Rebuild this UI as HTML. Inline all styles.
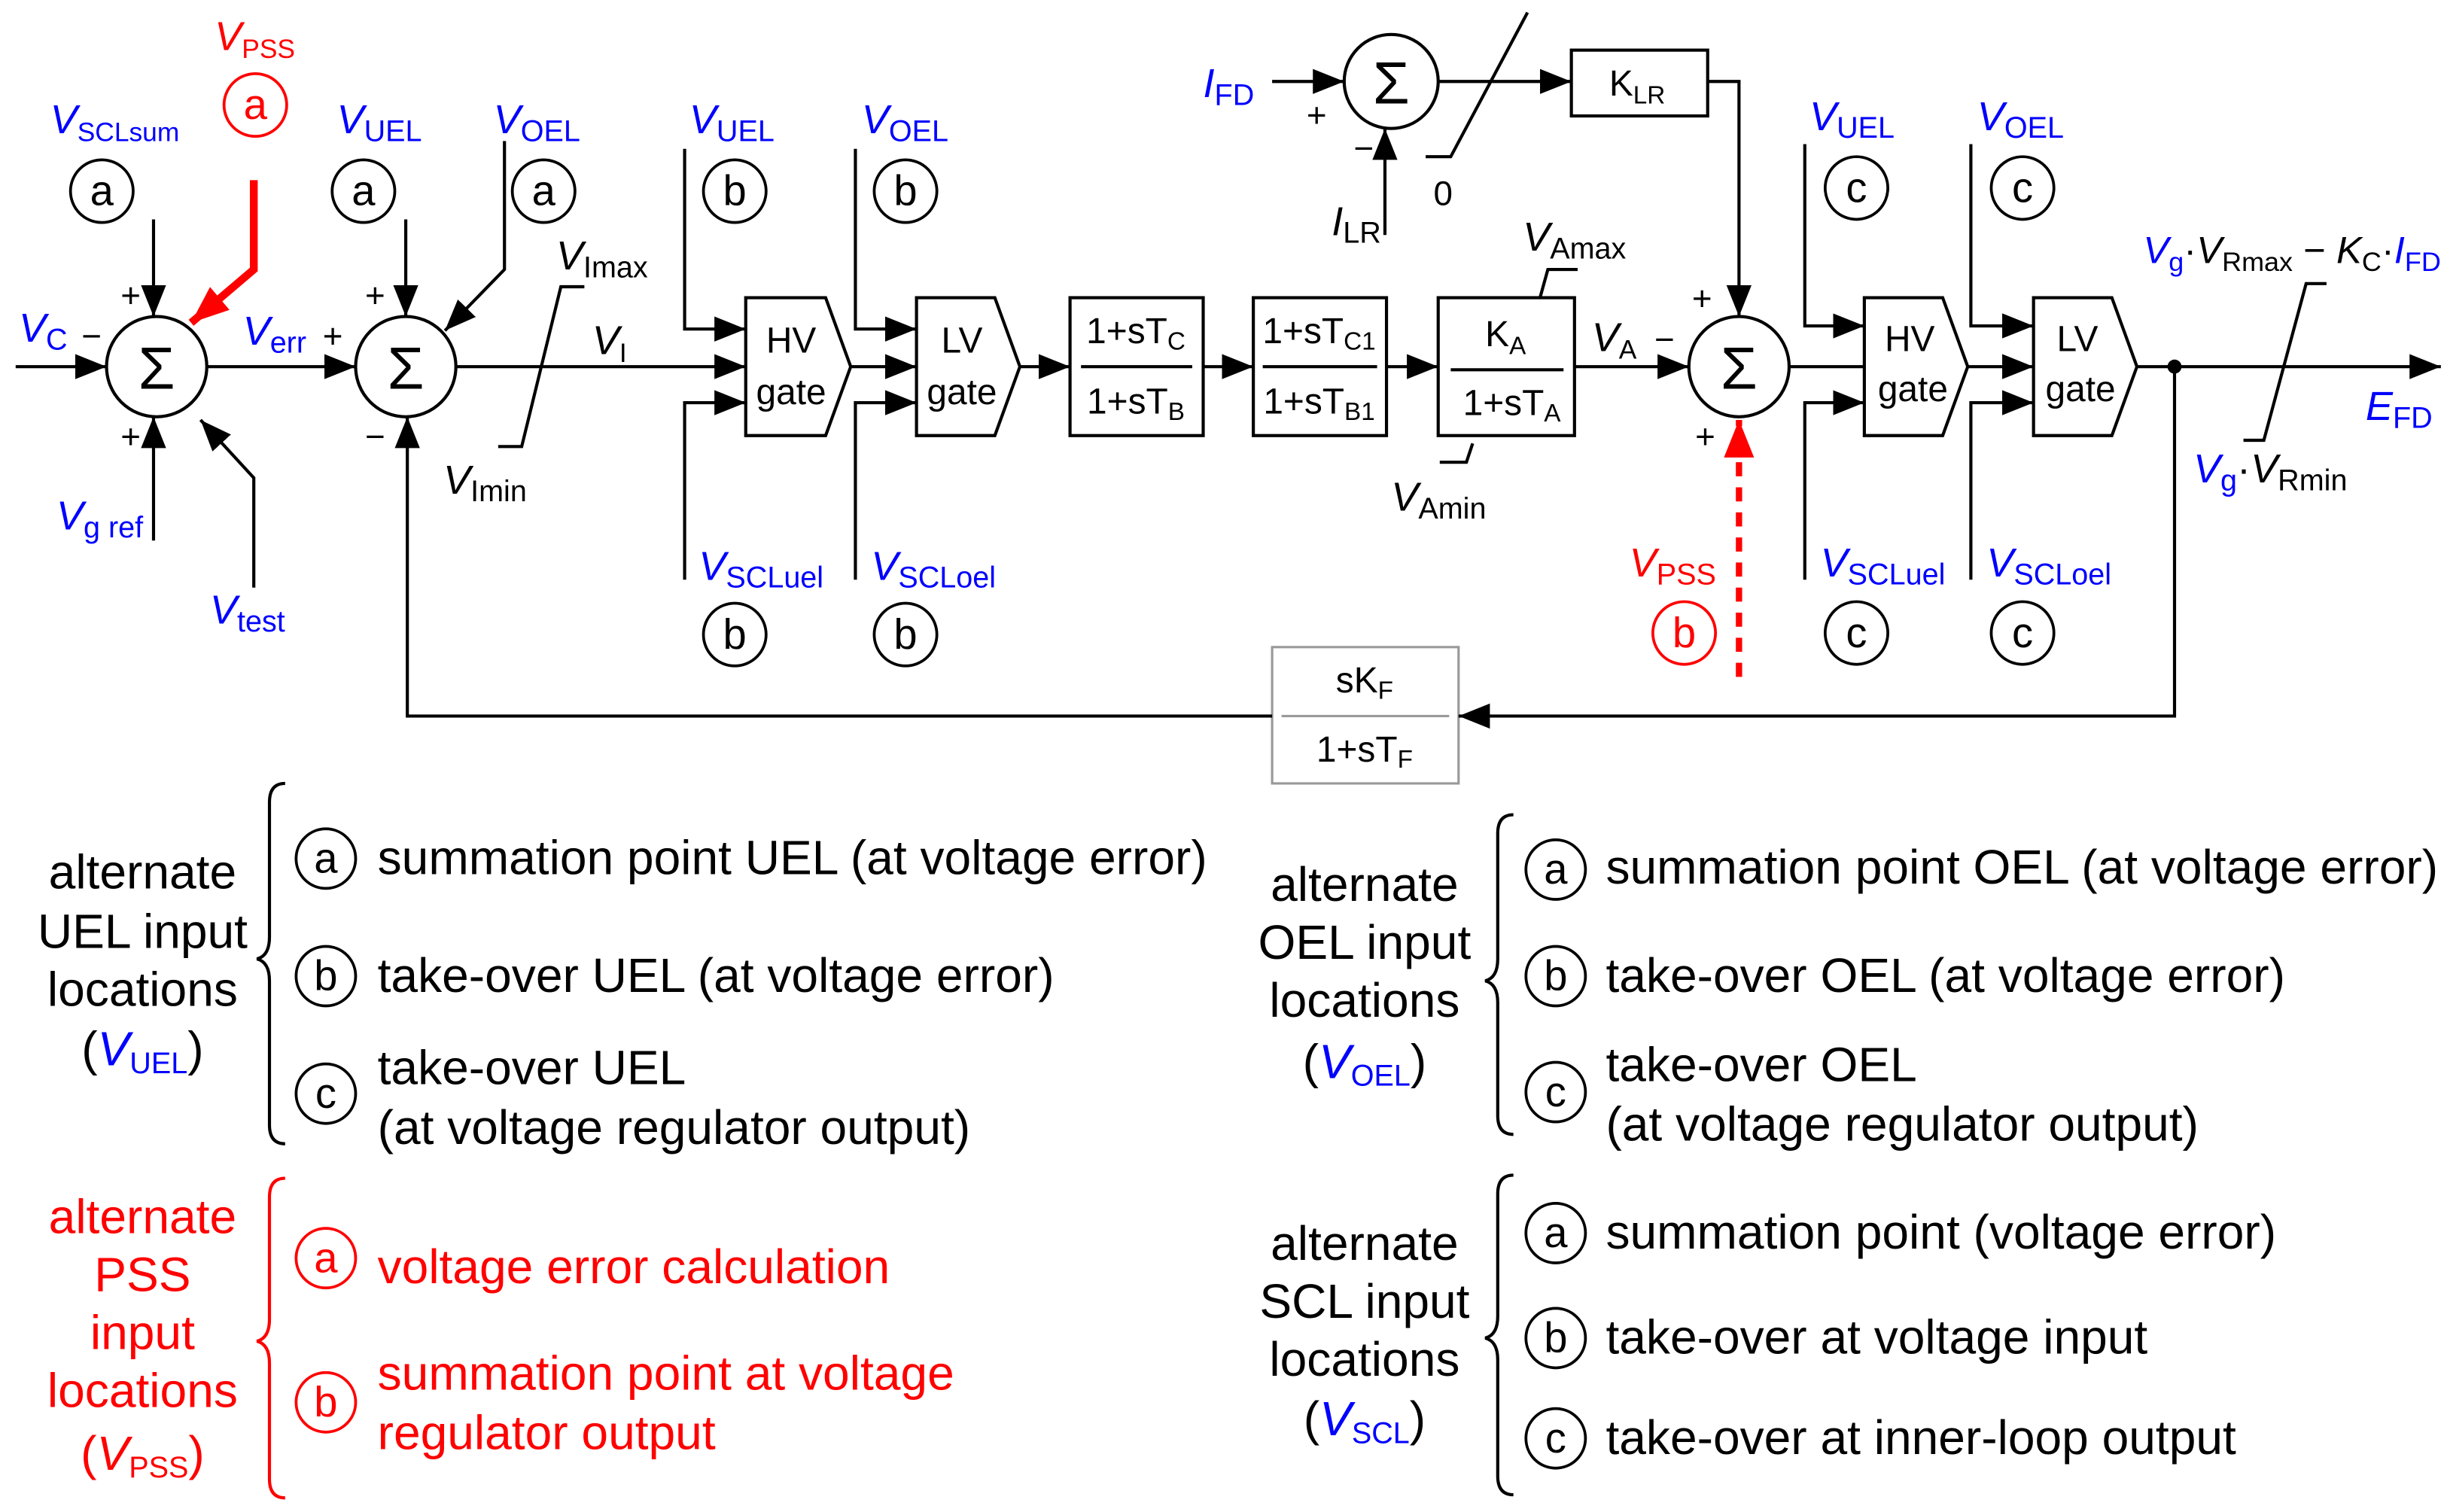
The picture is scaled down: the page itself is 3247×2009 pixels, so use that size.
<!DOCTYPE html>
<html><head><meta charset="utf-8"><style>
html,body{margin:0;padding:0;background:#fff}
svg{display:block}
text{font-family:"Liberation Sans",Arial,sans-serif}
.b{fill:#0000ff}.r{fill:#ff0000}
</style></head><body>
<svg width="3247" height="2009" viewBox="0 0 1560 965" preserveAspectRatio="none" xmlns="http://www.w3.org/2000/svg">
<defs>
<marker id="arb" viewBox="0 0 10 10" refX="10" refY="5" markerWidth="20" markerHeight="20" markerUnits="userSpaceOnUse" orient="auto"><path d="M0,1L10,5L0,9z" fill="#000"/></marker>
<marker id="arr" viewBox="0 0 10 10" refX="10" refY="5" markerWidth="24" markerHeight="24" markerUnits="userSpaceOnUse" orient="auto"><path d="M0,1L10,5L0,9z" fill="#f00"/></marker>
</defs>
<g stroke="#000" stroke-width="2" fill="none">
<circle cx="100" cy="234" r="32"/><circle cx="259" cy="234" r="32"/><circle cx="1110" cy="234" r="32"/><circle cx="888" cy="52" r="30"/>
<polygon points="476,190 527,190 543,234 527,278 476,278"/>
<polygon points="585,190 635,190 651,234 635,278 585,278"/>
<rect x="683" y="190" width="85" height="88"/><line x1="690" y1="234" x2="761" y2="234"/>
<rect x="800" y="190" width="85" height="88"/><line x1="806" y1="234" x2="879" y2="234"/>
<rect x="918" y="190" width="87" height="88"/><line x1="926" y1="236" x2="998" y2="236"/>
<polygon points="1190,190 1240,190 1256,234 1240,278 1190,278"/>
<polygon points="1298,190 1348,190 1364,234 1348,278 1298,278"/>
<rect x="1003" y="32" width="87" height="42"/>
<rect x="812" y="413" width="119" height="87" stroke="#999" stroke-width="1.5"/>
<line x1="818" y1="457" x2="925" y2="457" stroke="#999" stroke-width="1.5"/>
<line x1="10" y1="234" x2="68" y2="234" marker-end="url(#arb)"/>
<line x1="132" y1="234" x2="227" y2="234" marker-end="url(#arb)"/>
<line x1="291" y1="234" x2="476" y2="234" marker-end="url(#arb)"/>
<line x1="543" y1="234" x2="585" y2="234" marker-end="url(#arb)"/>
<line x1="651" y1="234" x2="683" y2="234" marker-end="url(#arb)"/>
<line x1="768" y1="234" x2="800" y2="234" marker-end="url(#arb)"/>
<line x1="885" y1="234" x2="918" y2="234" marker-end="url(#arb)"/>
<line x1="1005" y1="234" x2="1078" y2="234" marker-end="url(#arb)"/>
<line x1="1142" y1="234" x2="1190" y2="234"/>
<line x1="1256" y1="234" x2="1298" y2="234" marker-end="url(#arb)"/>
<line x1="1364" y1="234" x2="1558" y2="234" marker-end="url(#arb)"/>
<polyline points="1388,234 1388,457 931,457" marker-end="url(#arb)"/>
<polyline points="812,457 260,457 260,266" marker-end="url(#arb)"/>
<line x1="98" y1="140" x2="98" y2="202" marker-end="url(#arb)"/>
<line x1="98" y1="345" x2="98" y2="266" marker-end="url(#arb)"/>
<polyline points="162,375 162,305 128,268" marker-end="url(#arb)"/>
<line x1="259" y1="140" x2="259" y2="202" marker-end="url(#arb)"/>
<polyline points="322,90 322,172 284,211" marker-end="url(#arb)"/>
<polyline points="437,95 437,210 476,210" marker-end="url(#arb)"/>
<polyline points="437,370 437,257 476,257" marker-end="url(#arb)"/>
<polyline points="546,95 546,210 585,210" marker-end="url(#arb)"/>
<polyline points="546,370 546,257 585,257" marker-end="url(#arb)"/>
<polyline points="1152,92 1152,208 1190,208" marker-end="url(#arb)"/>
<polyline points="1152,370 1152,257 1190,257" marker-end="url(#arb)"/>
<polyline points="1258,92 1258,208 1298,208" marker-end="url(#arb)"/>
<polyline points="1258,370 1258,257 1298,257" marker-end="url(#arb)"/>
<polyline points="318,285 333,285 358,183 373,183"/>
<polyline points="983,190 988,172 1007,172"/>
<polyline points="940,283 936,295 919,295"/>
<polyline points="1432,281 1445,281 1472,181 1485,181"/>
<polyline points="910,100 926,100 975,8"/>
<line x1="812" y1="52" x2="858" y2="52" marker-end="url(#arb)"/>
<line x1="884" y1="150" x2="884" y2="82" marker-end="url(#arb)"/>
<line x1="918" y1="52" x2="1003" y2="52" marker-end="url(#arb)"/>
<polyline points="1090,52 1110,52 1110,202" marker-end="url(#arb)"/>
<g stroke-width="1.8">
<circle cx="65" cy="122" r="20"/><circle cx="232" cy="122" r="20"/><circle cx="347" cy="122" r="20"/>
<circle cx="469" cy="122" r="20"/><circle cx="578" cy="122" r="20"/><circle cx="469" cy="405" r="20"/><circle cx="578" cy="405" r="20"/>
<circle cx="1185" cy="120" r="20"/><circle cx="1291" cy="120" r="20"/><circle cx="1185" cy="404" r="20"/><circle cx="1291" cy="404" r="20"/>
<circle cx="208" cy="548" r="19"/><circle cx="208" cy="623" r="19"/><circle cx="208" cy="698" r="19"/>
<circle cx="993" cy="555" r="19"/><circle cx="993" cy="623" r="19"/><circle cx="993" cy="697" r="19"/>
<circle cx="993" cy="787" r="19"/><circle cx="993" cy="854" r="19"/><circle cx="993" cy="918" r="19"/>
</g>
<g stroke="#f00" stroke-width="1.8"><circle cx="163" cy="67" r="20"/><circle cx="1075" cy="404" r="20"/><circle cx="208" cy="803" r="19"/><circle cx="208" cy="895" r="19"/></g>
<path d="M182,500 Q172,500 172,512 L172,598 Q172,610 164,612 Q172,614 172,626 L172,718 Q172,730 182,730"/>
<path d="M966,520 Q956,520 956,532 L956,612 Q956,624 948,626 Q956,628 956,640 L956,712 Q956,724 966,724"/>
<path d="M966,750 Q956,750 956,762 L956,840 Q956,852 948,854 Q956,856 956,868 L956,942 Q956,954 966,954"/>
<path d="M182,752 Q172,752 172,764 L172,842 Q172,854 164,856 Q172,858 172,870 L172,944 Q172,956 182,956" stroke="#f00"/>
</g>
<polyline points="162,115 162,172 122,206" stroke="#f00" stroke-width="5" fill="none" marker-end="url(#arr)"/>
<line x1="1110" y1="432" x2="1110" y2="268" stroke="#f00" stroke-width="4" stroke-dasharray="9,7" marker-end="url(#arr)"/>
<circle cx="1388" cy="234" r="4.5" fill="#000"/>
<g font-size="38" text-anchor="middle"><text x="100" y="248">Σ</text><text x="259" y="248">Σ</text><text x="1110" y="248">Σ</text><text x="888" y="66">Σ</text></g>
<g font-size="22">
<text x="77" y="196">+</text><text x="52" y="222">−</text><text x="77" y="286">+</text>
<text x="233" y="196">+</text><text x="206" y="222">+</text><text x="233" y="286">−</text>
<text x="1080" y="198">+</text><text x="1056" y="224">−</text><text x="1082" y="286">+</text>
<text x="834" y="81">+</text><text x="864" y="102">−</text>
</g>
<g font-size="23" text-anchor="middle">
<text x="505" y="225">HV</text><text x="505" y="258">gate</text>
<text x="614" y="225">LV</text><text x="614" y="258">gate</text>
<text x="1219" y="224">HV</text><text x="1221" y="256">gate</text>
<text x="1326" y="224">LV</text><text x="1328" y="256">gate</text>
<text x="725" y="219">1+sT<tspan font-size="16" dy="4">C</tspan></text>
<text x="725" y="264">1+sT<tspan font-size="16" dy="4">B</tspan></text>
<text x="842" y="219">1+sT<tspan font-size="16" dy="4">C1</tspan></text>
<text x="842" y="264">1+sT<tspan font-size="16" dy="4">B1</tspan></text>
<text x="961" y="221">K<tspan font-size="16" dy="5">A</tspan></text>
<text x="965" y="265">1+sT<tspan font-size="16" dy="4">A</tspan></text>
<text x="1045" y="61">K<tspan font-size="16" dy="5">LR</tspan></text>
<text x="871" y="442">sK<tspan font-size="16" dy="4">F</tspan></text>
<text x="871" y="486">1+sT<tspan font-size="16" dy="4">F</tspan></text>
</g>
<g font-size="27" text-anchor="middle">
<text x="65" y="131">a</text><text x="232" y="131">a</text><text x="347" y="131">a</text>
<text x="469" y="131">b</text><text x="578" y="131">b</text><text x="469" y="414">b</text><text x="578" y="414">b</text>
<text x="1185" y="129">c</text><text x="1291" y="129">c</text><text x="1185" y="413">c</text><text x="1291" y="413">c</text>
<text x="208" y="557">a</text><text x="208" y="632">b</text><text x="208" y="707">c</text>
<text x="993" y="564">a</text><text x="993" y="632">b</text><text x="993" y="706">c</text>
<text x="993" y="796">a</text><text x="993" y="863">b</text><text x="993" y="927">c</text>
<g class="r"><text x="163" y="76">a</text><text x="1075" y="413">b</text><text x="208" y="812">a</text><text x="208" y="904">b</text></g>
</g>
<g font-size="26" font-style="italic">
<text x="137" y="32" class="r">V<tspan font-size="17" font-style="normal" dy="5">PSS</tspan></text>
<text x="32" y="85" class="b">V<tspan font-size="17" font-style="normal" dy="5">SCLsum</tspan></text>
<text x="215" y="85" class="b">V<tspan font-size="19" font-style="normal" dy="5">UEL</tspan></text>
<text x="315" y="85" class="b">V<tspan font-size="19" font-style="normal" dy="5">OEL</tspan></text>
<text x="440" y="85" class="b">V<tspan font-size="19" font-style="normal" dy="5">UEL</tspan></text>
<text x="550" y="85" class="b">V<tspan font-size="19" font-style="normal" dy="5">OEL</tspan></text>
<text x="1155" y="83" class="b">V<tspan font-size="19" font-style="normal" dy="5">UEL</tspan></text>
<text x="1262" y="83" class="b">V<tspan font-size="19" font-style="normal" dy="5">OEL</tspan></text>
<text x="12" y="218" class="b">V<tspan font-size="19" font-style="normal" dy="5">C</tspan></text>
<text x="155" y="220" class="b">V<tspan font-size="19" font-style="normal" dy="5">err</tspan></text>
<text x="36" y="338" class="b">V<tspan font-size="19" font-style="normal" dy="5">g ref</tspan></text>
<text x="134" y="398" class="b">V<tspan font-size="19" font-style="normal" dy="5">test</tspan></text>
<text x="355" y="172">V<tspan font-size="19" font-style="normal" dy="5">Imax</tspan></text>
<text x="378" y="226">V<tspan font-size="17" font-style="normal" dy="5">I</tspan></text>
<text x="283" y="315">V<tspan font-size="19" font-style="normal" dy="5">Imin</tspan></text>
<text x="446" y="370" class="b">V<tspan font-size="19" font-style="normal" dy="5">SCLuel</tspan></text>
<text x="556" y="370" class="b">V<tspan font-size="19" font-style="normal" dy="5">SCLoel</tspan></text>
<text x="768" y="62" class="b">I<tspan font-size="19" font-style="normal" dy="5">FD</tspan></text>
<text x="850" y="150">I<tspan font-size="19" font-style="normal" dy="5">LR</tspan></text>
<text x="915" y="131" font-style="normal" font-size="22">0</text>
<text x="972" y="160">V<tspan font-size="19" font-style="normal" dy="5">Amax</tspan></text>
<text x="1016" y="224">V<tspan font-size="17" font-style="normal" dy="5">A</tspan></text>
<text x="888" y="326">V<tspan font-size="19" font-style="normal" dy="5">Amin</tspan></text>
<text x="1040" y="368" class="r">V<tspan font-size="19" font-style="normal" dy="5">PSS</tspan></text>
<text x="1162" y="368" class="b">V<tspan font-size="19" font-style="normal" dy="5">SCLuel</tspan></text>
<text x="1268" y="368" class="b">V<tspan font-size="19" font-style="normal" dy="5">SCLoel</tspan></text>
<text x="1368" y="168" font-size="24" textLength="190" lengthAdjust="spacingAndGlyphs"><tspan class="b">V<tspan font-size="17" font-style="normal" dy="5">g</tspan></tspan><tspan font-style="normal" dy="-5">·</tspan>V<tspan font-size="17" font-style="normal" dy="5">Rmax</tspan><tspan font-style="normal" dy="-5"> − </tspan>K<tspan font-size="17" font-style="normal" dy="5">C</tspan><tspan font-style="normal" dy="-5">·</tspan><tspan class="b">I<tspan font-size="17" font-style="normal" dy="5">FD</tspan></tspan></text>
<text x="1510" y="268" class="b">E<tspan font-size="19" font-style="normal" dy="5">FD</tspan></text>
<text x="1400" y="308"><tspan class="b">V<tspan font-size="19" font-style="normal" dy="5">g</tspan></tspan><tspan font-style="normal" dy="-5">·</tspan>V<tspan font-size="19" font-style="normal" dy="5">Rmin</tspan></text>
</g>
<g font-size="30.8">
<text x="241" y="558">summation point UEL (at voltage error)</text>
<text x="241" y="633">take-over UEL (at voltage error)</text>
<text x="241" y="692">take-over UEL</text>
<text x="241" y="730">(at voltage regulator output)</text>
<text x="1025" y="564">summation point OEL (at voltage error)</text>
<text x="1025" y="633">take-over OEL (at voltage error)</text>
<text x="1025" y="690">take-over OEL</text>
<text x="1025" y="728">(at voltage regulator output)</text>
<text x="1025" y="797">summation point (voltage error)</text>
<text x="1025" y="864">take-over at voltage input</text>
<text x="1025" y="928">take-over at inner-loop output</text>
<g class="r"><text x="241" y="819">voltage error calculation</text>
<text x="241" y="887">summation point at voltage</text>
<text x="241" y="925">regulator output</text></g>
<g text-anchor="middle">
<text x="91" y="567">alternate</text><text x="91" y="605">UEL input</text><text x="91" y="642">locations</text>
<text x="91" y="680">(<tspan class="b" font-style="italic">V<tspan font-size="19" font-style="normal" dy="5">UEL</tspan></tspan><tspan dy="-5">)</tspan></text>
<text x="871" y="575">alternate</text><text x="871" y="612">OEL input</text><text x="871" y="649">locations</text>
<text x="871" y="688">(<tspan class="b" font-style="italic">V<tspan font-size="19" font-style="normal" dy="5">OEL</tspan></tspan><tspan dy="-5">)</tspan></text>
<text x="871" y="804">alternate</text><text x="871" y="841">SCL input</text><text x="871" y="878">locations</text>
<text x="871" y="916">(<tspan class="b" font-style="italic">V<tspan font-size="19" font-style="normal" dy="5">SCL</tspan></tspan><tspan dy="-5">)</tspan></text>
<g class="r"><text x="91" y="787">alternate</text><text x="91" y="824">PSS</text><text x="91" y="861">input</text><text x="91" y="898">locations</text>
<text x="91" y="938">(<tspan font-style="italic">V<tspan font-size="19" font-style="normal" dy="5">PSS</tspan></tspan><tspan dy="-5">)</tspan></text></g>
</g>
</g>
</svg>
</body></html>
